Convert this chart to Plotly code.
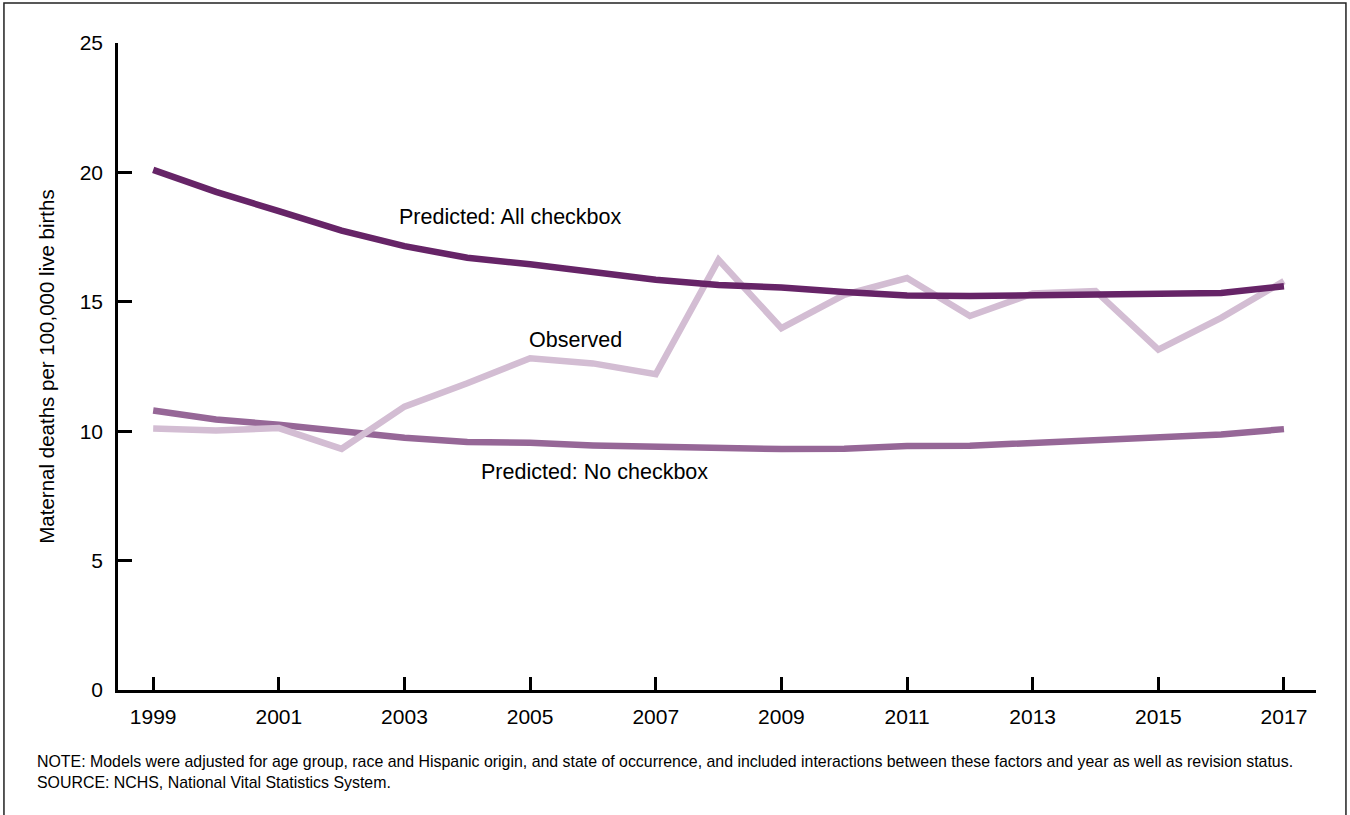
import plotly.graph_objects as go

years = list(range(1999, 2018))
predicted_all = [20.1, 19.25, 18.5, 17.75, 17.15, 16.7, 16.45, 16.15, 15.85, 15.65, 15.55, 15.38, 15.24, 15.22, 15.24, 15.28, 15.33, 15.34, 15.6]
observed = [10.1, 10.03, 10.12, 9.32, 10.95, 11.85, 12.82, 12.62, 12.2, 16.62, 13.98, 15.27, 15.92, 14.45, 15.32, 15.42, 13.15, 14.38, 15.8]
predicted_none = [10.8, 10.45, 10.25, 10.0, 9.75, 9.58, 9.55, 9.45, 9.4, 9.31, 9.31, 9.32, 9.43, 9.44, 9.55, 9.66, 9.77, 9.87, 10.08]

x_ticks = [1999, 2001, 2003, 2005, 2007, 2009, 2011, 2013, 2015, 2017]
y_ticks = [0, 5, 10, 15, 20, 25]

C_DARK = "#662467"
C_MID = "#966797"
C_LIGHT = "#d3bdd3"
FONT = "Liberation Sans, Arial, sans-serif"

fig = go.Figure()
fig.add_trace(go.Scatter(x=years, y=predicted_none, mode="lines",
                         line=dict(color=C_MID, width=6.5), hoverinfo="skip"))
fig.add_trace(go.Scatter(x=years, y=observed, mode="lines",
                         line=dict(color=C_LIGHT, width=6.5), hoverinfo="skip"))
fig.add_trace(go.Scatter(x=years, y=predicted_all, mode="lines",
                         line=dict(color=C_DARK, width=6.5), hoverinfo="skip"))

labels = [
    ("Predicted: All checkbox", 2004.68, 18.28),
    ("Observed", 2005.72, 13.52),
    ("Predicted: No checkbox", 2006.03, 8.42),
]
for txt, ax_, ay_ in labels:
    fig.add_annotation(x=ax_, y=ay_, text=txt, showarrow=False,
                       font=dict(family=FONT, size=21.5, color="#000000"),
                       xanchor="center", yanchor="middle")

fig.add_annotation(
    xref="paper", yref="paper", x=-0.0693, y=-0.094, xanchor="left", yanchor="top",
    align="left", showarrow=False,
    text=("NOTE: Models were adjusted for age group, race and Hispanic origin, and state of occurrence, "
          "and included interactions between these factors and year as well as revision status.<br>"
          "SOURCE: NCHS, National Vital Statistics System."),
    font=dict(family=FONT, size=15.9, color="#000000"),
)

# outer frame
fig.add_shape(type="rect", xref="paper", yref="paper",
              x0=-0.0952, x1=1.0250, y0=-0.22, y1=1.0618,
              line=dict(color="#222222", width=1.5), layer="below")

fig.update_layout(
    width=1350, height=815,
    margin=dict(l=118, r=34, t=43, b=125),
    paper_bgcolor="white", plot_bgcolor="white",
    showlegend=False,
    font=dict(family=FONT, color="#000000"),
    xaxis=dict(range=[1998.44, 2017.51], tickmode="array", tickvals=x_ticks,
               ticktext=[str(v) for v in x_ticks],
               showgrid=False, zeroline=False, showline=True, linecolor="#000000", linewidth=2.5,
               ticks="inside", ticklen=13, tickwidth=2.5, tickcolor="#000000",
               tickfont=dict(family=FONT, size=21), ticklabelstandoff=6, fixedrange=True),
    yaxis=dict(range=[0, 25], tickmode="array", tickvals=y_ticks,
               showgrid=False, zeroline=False, showline=True, linecolor="#000000", linewidth=2.5,
               ticks="inside", ticklen=14, tickwidth=2.5, tickcolor="#000000",
               tickfont=dict(family=FONT, size=21), ticklabelstandoff=8,
               title=dict(text="Maternal deaths per 100,000 live births",
                          font=dict(family=FONT, size=20.5), standoff=20),
               fixedrange=True),
)

fig.write_html("out.html")
